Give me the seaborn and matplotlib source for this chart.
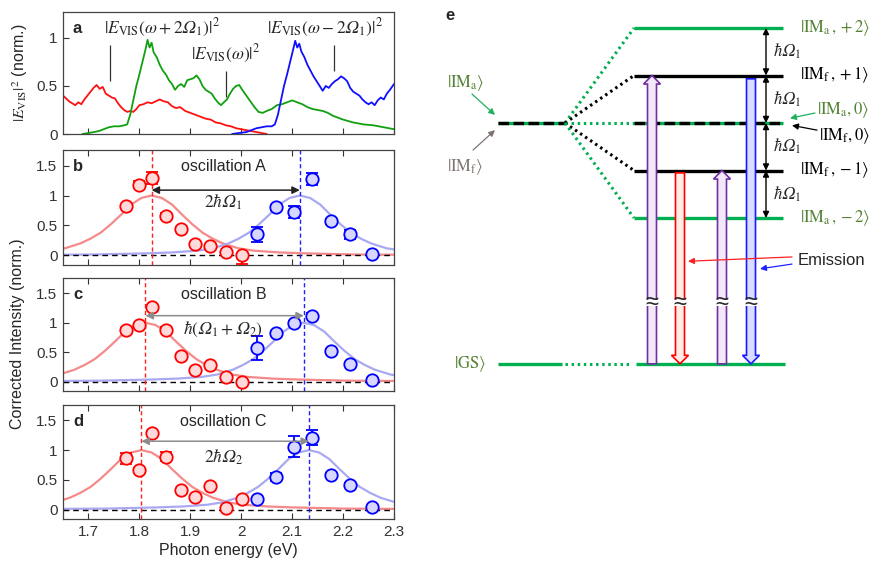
import numpy as np
import pandas as pd
import seaborn as sns
import matplotlib.pyplot as plt
from matplotlib import ticker
from matplotlib.patches import FancyArrow, Rectangle

# ---------------- data ----------------
# panel a: measured spectra (photon energy, normalised intensity)
red_x = [1.650, 1.656, 1.662, 1.668, 1.674, 1.680, 1.686, 1.692, 1.698, 1.704, 1.710, 1.716,
         1.722, 1.728, 1.734, 1.740, 1.746, 1.752, 1.758, 1.764, 1.770, 1.776, 1.782, 1.788,
         1.794, 1.800, 1.808, 1.816, 1.824, 1.832, 1.840, 1.848, 1.856, 1.864, 1.872, 1.880,
         1.890, 1.900, 1.910, 1.920, 1.930, 1.940, 1.950, 1.960, 1.970, 1.980, 1.990, 2.000,
         2.010, 2.020, 2.030, 2.040, 2.050]
red_y = [0.40, 0.37, 0.34, 0.32, 0.30, 0.33, 0.31, 0.36, 0.40, 0.44, 0.48, 0.51,
         0.47, 0.49, 0.42, 0.40, 0.38, 0.37, 0.32, 0.28, 0.25, 0.23, 0.24, 0.23,
         0.26, 0.30, 0.31, 0.33, 0.32, 0.34, 0.36, 0.34, 0.33, 0.29, 0.27, 0.28,
         0.24, 0.22, 0.20, 0.18, 0.16, 0.15, 0.12, 0.11, 0.09, 0.08, 0.06, 0.05,
         0.04, 0.03, 0.02, 0.01, 0.00]
green_x = [1.688, 1.700, 1.710, 1.720, 1.730, 1.740, 1.750, 1.760, 1.770, 1.776, 1.782, 1.788,
           1.794, 1.800, 1.806, 1.812, 1.816, 1.820, 1.824, 1.828, 1.834, 1.840, 1.846, 1.852,
           1.858, 1.864, 1.870, 1.876, 1.882, 1.888, 1.894, 1.900, 1.906, 1.912, 1.918, 1.924,
           1.930, 1.936, 1.942, 1.948, 1.954, 1.960, 1.966, 1.972, 1.978, 1.984, 1.990, 1.996,
           2.002, 2.010, 2.018, 2.026, 2.034, 2.042, 2.050, 2.060, 2.070, 2.080, 2.090, 2.100,
           2.110, 2.120, 2.130, 2.140, 2.150, 2.160, 2.170, 2.180, 2.190, 2.200, 2.220, 2.240,
           2.260, 2.280, 2.300]
green_y = [0.00, 0.01, 0.02, 0.03, 0.05, 0.07, 0.08, 0.08, 0.09, 0.10, 0.20, 0.35,
           0.50, 0.62, 0.75, 0.88, 0.98, 0.90, 0.95, 0.85, 0.80, 0.72, 0.66, 0.62,
           0.56, 0.52, 0.46, 0.50, 0.52, 0.49, 0.56, 0.57, 0.58, 0.61, 0.57, 0.50,
           0.46, 0.44, 0.42, 0.37, 0.33, 0.30, 0.33, 0.36, 0.42, 0.47, 0.50, 0.51,
           0.46, 0.40, 0.34, 0.28, 0.23, 0.22, 0.24, 0.26, 0.30, 0.31, 0.33, 0.35,
           0.33, 0.31, 0.28, 0.26, 0.25, 0.24, 0.22, 0.19, 0.17, 0.15, 0.12, 0.10,
           0.09, 0.07, 0.05]
blue_x = [1.982, 1.995, 2.010, 2.020, 2.030, 2.040, 2.050, 2.060, 2.066, 2.072, 2.078, 2.084,
          2.090, 2.096, 2.102, 2.106, 2.110, 2.114, 2.118, 2.124, 2.130, 2.136, 2.142, 2.148,
          2.154, 2.160, 2.166, 2.172, 2.178, 2.184, 2.190, 2.196, 2.202, 2.208, 2.214, 2.220,
          2.226, 2.232, 2.238, 2.244, 2.250, 2.256, 2.262, 2.268, 2.274, 2.280, 2.286, 2.292,
          2.300]
blue_y = [0.00, 0.01, 0.02, 0.04, 0.06, 0.07, 0.08, 0.08, 0.10, 0.20, 0.35, 0.50,
          0.62, 0.75, 0.88, 0.97, 0.90, 0.94, 0.86, 0.80, 0.72, 0.66, 0.60, 0.55,
          0.50, 0.45, 0.50, 0.48, 0.52, 0.55, 0.57, 0.60, 0.58, 0.55, 0.48, 0.44,
          0.42, 0.40, 0.36, 0.33, 0.31, 0.33, 0.30, 0.35, 0.38, 0.36, 0.42, 0.46,
          0.52]
marker_x = [1.742, 1.970, 2.182]
marker_lo = [0.55, 0.39, 0.66]
marker_hi = [0.93, 0.66, 0.93]

# panels b-d: corrected intensities of the oscillations
energies_red = [1.773, 1.799, 1.825, 1.852, 1.881, 1.910, 1.939, 1.971, 2.002]
energies_blue = [2.031, 2.068, 2.103, 2.139, 2.176, 2.214, 2.256]

b_red_y = [0.82, 1.18, 1.29, 0.66, 0.44, 0.19, 0.15, 0.05, 0.01]
b_red_err_lo = [0.03, 0.06, 0.10, 0.05, 0.03, 0.03, 0.03, 0.03, 0.16]
b_red_err_hi = [0.03, 0.06, 0.10, 0.05, 0.03, 0.03, 0.03, 0.03, 0.00]
b_blue_y = [0.35, 0.80, 0.73, 1.28, 0.57, 0.35, 0.02]
b_blue_err = [0.12, 0.04, 0.10, 0.10, 0.04, 0.07, 0.02]

c_red_y = [0.88, 0.96, 1.26, 0.88, 0.44, 0.19, 0.28, 0.07, 0.00]
c_red_err = [0.03, 0.03, 0.03, 0.04, 0.03, 0.02, 0.02, 0.02, 0.02]
c_blue_y = [0.57, 0.83, 1.00, 1.12, 0.52, 0.30, 0.02]
c_blue_err = [0.20, 0.03, 0.03, 0.04, 0.03, 0.02, 0.02]

d_red_y = [0.86, 0.67, 1.29, 0.89, 0.33, 0.21, 0.39, 0.03, 0.17]
d_red_err = [0.10, 0.03, 0.03, 0.08, 0.02, 0.02, 0.02, 0.02, 0.02]
d_blue_y = [0.17, 0.55, 1.06, 1.21, 0.58, 0.41, 0.04]
d_blue_err = [0.03, 0.07, 0.18, 0.13, 0.03, 0.03, 0.02]

red_centers = [1.824, 1.812, 1.804]
blue_centers = [2.115, 2.123, 2.133]
arrow_levels = [1.09, 1.12, 1.15]
osc_names = ["oscillation A", "oscillation B", "oscillation C"]
gap_labels = ["$2\\hbar𝛺_1$", "$\\hbar(𝛺_1+𝛺_2)$", "$2\\hbar𝛺_2$"]
panel_letters = ["b", "c", "d"]

# fitted peak profile (offset from peak centre, normalised height)
fit_offset = [-0.50, -0.40, -0.30, -0.25, -0.20, -0.17, -0.14, -0.12, -0.10, -0.08, -0.06,
              -0.04, -0.02, 0.00, 0.02, 0.04, 0.06, 0.08, 0.10, 0.12, 0.14, 0.17, 0.20,
              0.25, 0.30, 0.40, 0.50]
fit_profile = [0.01, 0.015, 0.035, 0.05, 0.08, 0.12, 0.20, 0.28, 0.38, 0.52, 0.68,
               0.85, 0.96, 1.00, 0.96, 0.85, 0.68, 0.52, 0.38, 0.28, 0.20, 0.12, 0.08,
               0.05, 0.035, 0.015, 0.01]

# panel e: level scheme (energies in units of hbar*Omega_1, GS below a break)
level_values = [2, 1, 0, -1, -2]
level_labels = [r"$|\mathrm{IM}_\mathrm{a}\,,+2\rangle$", r"$|\mathrm{IM}_\mathrm{f}\,,+1\rangle$",
                None, r"$|\mathrm{IM}_\mathrm{f}\,,-1\rangle$", r"$|\mathrm{IM}_\mathrm{a}\,,-2\rangle$"]
gs_value = -5.07
break_value = -3.79
trans_x = [222, 250, 292, 321]
trans_from = [gs_value, -1.05, gs_value, 0.93]
trans_to = [1, gs_value, -1, gs_value]
trans_face = ["#f3e8f9", "#fdece4", "#f3e8f9", "#d9ddff"]
trans_edge = ["#7030a0", "#ff0000", "#7030a0", "#1a1aff"]

# ---------------- style ----------------
sns.set_theme(style="ticks")
plt.rcParams["font.family"] = ["Liberation Sans", "DejaVu Sans"]
plt.rcParams["mathtext.fontset"] = "stix"
plt.rcParams["axes.edgecolor"] = "#444444"
plt.rcParams["axes.linewidth"] = 0.9

GREEN = "#00b050"
TXT_GREEN = "#548235"
RED_FIT = "#f58a8a"
BLUE_FIT = "#a9a9f2"

fig = plt.figure(figsize=(8.75, 5.63), dpi=100)
W, H = 875, 563


def add_ax(left, top, right, bottom):
    return fig.add_axes([left / W, 1 - bottom / H, (right - left) / W, (bottom - top) / H])


def style_ax(ax):
    ax.set(xlabel="", ylabel="")
    ax.set_xlim(1.65, 2.3)
    ax.xaxis.set_major_locator(ticker.MultipleLocator(0.1))
    ax.xaxis.set_major_formatter(ticker.FormatStrFormatter("%g"))
    ax.yaxis.set_major_formatter(ticker.FormatStrFormatter("%g"))
    ax.tick_params(direction="in", length=4, width=0.8, labelsize=11, colors="#333333",
                   pad=4, top=True)


# ---------------- panel a ----------------
ax_a = add_ax(63, 12, 394, 134)
sns.lineplot(x=red_x, y=red_y, ax=ax_a, color="#ff1010", lw=1.3, sort=False, estimator=None)
sns.lineplot(x=green_x, y=green_y, ax=ax_a, color="#10a010", lw=1.3, sort=False, estimator=None)
sns.lineplot(x=blue_x, y=blue_y, ax=ax_a, color="#1010ff", lw=1.3, sort=False, estimator=None)
ax_a.vlines(marker_x, marker_lo, marker_hi, color="#333333", lw=0.9)
style_ax(ax_a)
ax_a.set_ylim(0, 1.27)
ax_a.set_yticks([0, 0.5, 1])
ax_a.tick_params(labelbottom=False, top=False)
ax_a.text(1.677, 1.1, "a", fontsize=12, fontweight="bold", ha="center", va="center")
ax_a.text(1.845, 1.1, "$|E_{\\mathrm{VIS}}(\\omega+2𝛺_1)|^2$", fontsize=12.5,
          ha="center", va="center")
ax_a.text(1.97, 0.83, r"$|E_{\mathrm{VIS}}(\omega)|^2$", fontsize=12.5, ha="center", va="center")
ax_a.text(2.165, 1.1, "$|E_{\\mathrm{VIS}}(\\omega-2𝛺_1)|^2$", fontsize=12.5,
          ha="center", va="center")
fig.text(20 / W, 1 - 73 / H, r"$|E_{\mathrm{VIS}}|^2$ (norm.)", rotation=90, fontsize=11.5,
         ha="center", va="center")

# ---------------- panels b-d ----------------
boxes = [(150, 265), (278, 391), (405, 519)]
red_sets = [(b_red_y, [b_red_err_lo, b_red_err_hi]), (c_red_y, c_red_err), (d_red_y, d_red_err)]
blue_sets = [(b_blue_y, b_blue_err), (c_blue_y, c_blue_err), (d_blue_y, d_blue_err)]
arrow_colors = ["#222222", "#8c8c8c", "#8c8c8c"]

for i in range(3):
    ax = add_ax(63, boxes[i][0], 394, boxes[i][1])
    fit = pd.DataFrame({"offset": fit_offset, "height": fit_profile})
    sns.lineplot(x=fit["offset"] + red_centers[i], y=fit["height"], ax=ax, color=RED_FIT,
                 lw=1.6, sort=False, estimator=None, zorder=1)
    sns.lineplot(x=fit["offset"] + blue_centers[i], y=fit["height"], ax=ax, color=BLUE_FIT,
                 lw=1.6, sort=False, estimator=None, zorder=1)
    ax.axhline(0, color="black", lw=1, ls=(0, (4, 3)), zorder=2)
    ax.axvline(red_centers[i], color="#ff2020", lw=1, ls=(0, (3, 2)), zorder=2)
    ax.axvline(blue_centers[i], color="#2020ff", lw=1, ls=(0, (3, 2)), zorder=2)

    ry, re = red_sets[i]
    by, be = blue_sets[i]
    ax.errorbar(energies_red, ry, yerr=re, fmt="none", ecolor="#ff0000", elinewidth=1.3,
                capsize=4.5, capthick=1.3, zorder=3)
    ax.errorbar(energies_blue, by, yerr=be, fmt="none", ecolor="#0000ff", elinewidth=1.3,
                capsize=4.5, capthick=1.3, zorder=3)
    sns.scatterplot(x=energies_red, y=ry, ax=ax, s=80, facecolor="#ffdada", edgecolor="#ff0000",
                    linewidth=1.3, zorder=4)
    sns.scatterplot(x=energies_blue, y=by, ax=ax, s=80, facecolor="#d6d6ff", edgecolor="#0000ff",
                    linewidth=1.3, zorder=4)

    ax.annotate("", xy=(red_centers[i], arrow_levels[i]), xytext=(blue_centers[i], arrow_levels[i]),
                arrowprops=dict(arrowstyle="<|-|>", color=arrow_colors[i], lw=1.1,
                                shrinkA=0, shrinkB=0, mutation_scale=11), zorder=5)
    ax.text(1.965, 0.88, gap_labels[i], fontsize=12.5, ha="center", va="center")
    ax.text(1.965, 1.48, osc_names[i], fontsize=11.5, ha="center", va="center")
    ax.text(1.68, 1.48, panel_letters[i], fontsize=12, fontweight="bold", ha="center",
            va="center")

    style_ax(ax)
    ax.set_ylim(-0.16, 1.76)
    ax.set_yticks([0, 0.5, 1, 1.5])
    if i < 2:
        ax.tick_params(labelbottom=False)

fig.text(18 / W, 1 - 334 / H, "Corrected Intensity (norm.)", rotation=90, fontsize=11.5,
         ha="center", va="center")
fig.text(228 / W, 1 - 550 / H, "Photon energy (eV)", fontsize=11.5, ha="center", va="center")

# ---------------- panel e ----------------
ax_e = fig.add_axes([430 / W, 0, 445 / W, 1])
ax_e.set_xlim(0, 445)
ax_e.set_ylim(-(H - 123) / 47.5, 123 / 47.5)
ax_e.axis("off")
ax_e.text(20, 2.27, "e", fontsize=12, fontweight="bold", ha="center", va="center")

# unperturbed states and fan-out
ax_e.plot([68, 135], [0, 0], color=GREEN, lw=2.4, solid_capstyle="butt")
ax_e.plot([68, 135], [0, 0], color="black", lw=2.4, ls=(0, (3.2, 1.3)))
for v in level_values:
    fan_color = "black" if v % 2 else GREEN
    ax_e.plot([135, 204], [0, v], color=fan_color, lw=2.2, ls=(0, (0.8, 1.2)))
    if v == 0:
        ax_e.plot([204, 353], [0, 0], color=GREEN, lw=2.4, solid_capstyle="butt")
        ax_e.plot([204, 353], [0, 0], color="black", lw=2.4, ls=(0, (3.2, 1.3)))
    else:
        ax_e.plot([204, 353], [v, v], color=fan_color, lw=2.4, solid_capstyle="butt")

# ground state with break
ax_e.plot([68, 132], [gs_value, gs_value], color=GREEN, lw=2.4, solid_capstyle="butt")
ax_e.plot([135, 202], [gs_value, gs_value], color=GREEN, lw=2.2, ls=(0, (0.8, 1.2)))
ax_e.plot([206, 355], [gs_value, gs_value], color=GREEN, lw=2.4, solid_capstyle="butt")

# level labels
LAB_FS = 12
for v, lab in zip(level_values, level_labels):
    if lab is None:
        continue
    ax_e.text(370, v, lab, fontsize=LAB_FS, ha="left", va="center",
              color=TXT_GREEN if v % 2 == 0 else "black")
ax_e.text(387, 0.27, r"$|\mathrm{IM}_\mathrm{a},0\rangle$", fontsize=LAB_FS, ha="left",
          va="center", color=TXT_GREEN)
ax_e.text(389, -0.27, r"$|\mathrm{IM}_\mathrm{f},0\rangle$", fontsize=LAB_FS, ha="left",
          va="center", color="black")
ax_e.annotate("", xy=(360, 0.1), xytext=(385, 0.21),
              arrowprops=dict(arrowstyle="-|>", color="#20b060", lw=0.9, mutation_scale=9,
                              shrinkA=0, shrinkB=0))
ax_e.annotate("", xy=(362, -0.05), xytext=(387, -0.15),
              arrowprops=dict(arrowstyle="-|>", color="black", lw=0.9, mutation_scale=9,
                              shrinkA=0, shrinkB=0))

ax_e.text(17, 0.84, r"$|\mathrm{IM}_\mathrm{a}\rangle$", fontsize=LAB_FS, ha="left",
          va="center", color=TXT_GREEN)
ax_e.text(17, -0.93, r"$|\mathrm{IM}_\mathrm{f}\rangle$", fontsize=LAB_FS, ha="left",
          va="center", color="#7f7470")
ax_e.text(24, gs_value, r"$|\mathrm{GS}\rangle$", fontsize=LAB_FS, ha="left", va="center",
          color=TXT_GREEN)
ax_e.annotate("", xy=(65, 0.17), xytext=(42, 0.61),
              arrowprops=dict(arrowstyle="-|>", color="#20b060", lw=0.9, mutation_scale=9,
                              shrinkA=0, shrinkB=0))
ax_e.annotate("", xy=(65, -0.15), xytext=(43, -0.57),
              arrowprops=dict(arrowstyle="-|>", color="#7f7470", lw=0.9, mutation_scale=9,
                              shrinkA=0, shrinkB=0))

# spacing arrows
for k in range(len(level_values) - 1):
    top, bot = level_values[k], level_values[k + 1]
    ax_e.annotate("", xy=(336, bot), xytext=(336, top),
                  arrowprops=dict(arrowstyle="<|-|>", color="black", lw=1, mutation_scale=9,
                                  shrinkA=0, shrinkB=0))
    ax_e.text(343, (top + bot) / 2, "$\\hbar𝛺_1$", fontsize=12, ha="left", va="center")

# optical transitions
for x, y0, y1, fc, ec in zip(trans_x, trans_from, trans_to, trans_face, trans_edge):
    ax_e.add_patch(FancyArrow(x, y0, 0, y1 - y0, width=9, head_width=17, head_length=0.18,
                              length_includes_head=True, fc=fc, ec=ec, lw=1.2, zorder=3))
    ax_e.add_patch(Rectangle((x - 11, break_value - 0.06), 22, 0.12, fc="white", ec="none",
                             zorder=4))
    ax_e.text(x, break_value, "≈", fontsize=17, ha="center", va="center", zorder=5)

ax_e.text(368, -2.9, "Emission", fontsize=12, ha="left", va="center")
ax_e.annotate("", xy=(258, -2.91), xytext=(362, -2.82),
              arrowprops=dict(arrowstyle="-|>", color="#ff2020", lw=0.9, mutation_scale=9,
                              shrinkA=0, shrinkB=0))
ax_e.annotate("", xy=(330, -3.07), xytext=(362, -2.97),
              arrowprops=dict(arrowstyle="-|>", color="#2020ff", lw=0.9, mutation_scale=9,
                              shrinkA=0, shrinkB=0))

fig.savefig("out.png", dpi=100)
